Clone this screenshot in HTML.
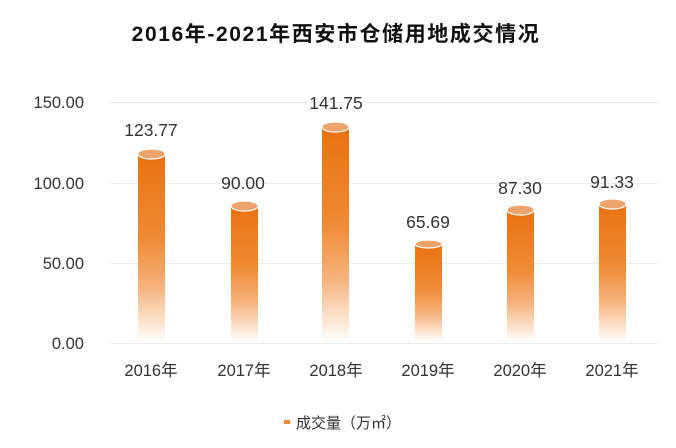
<!DOCTYPE html>
<html><head><meta charset="utf-8"><style>
html,body{margin:0;padding:0;background:#fff;width:676px;height:448px;overflow:hidden}
text{font-family:"Liberation Sans","Noto Sans CJK SC",sans-serif}
</style></head><body>
<svg width="676" height="448" xmlns="http://www.w3.org/2000/svg">
<defs>
<linearGradient id="g" x1="0" y1="0" x2="0" y2="1">
<stop offset="0" stop-color="#e87212"/>
<stop offset="0.45" stop-color="#f08a34"/>
<stop offset="0.7" stop-color="#f5b17a"/>
<stop offset="1" stop-color="#ffffff"/>
</linearGradient>
</defs>
<text x="336" y="41" text-anchor="middle" font-size="21" font-weight="bold" fill="#111" letter-spacing="1.6">2016年-2021年西安市仓储用地成交情况</text>
<g stroke="#ececec" stroke-width="1">
<line x1="110" y1="102.5" x2="658" y2="102.5"/>
<line x1="110" y1="183.5" x2="658" y2="183.5"/>
<line x1="110" y1="263.5" x2="658" y2="263.5"/>
<line x1="110" y1="343.5" x2="658" y2="343.5"/>
</g>
<g font-size="16.5" fill="#333" text-anchor="end">
<text x="84" y="108">150.00</text>
<text x="84" y="189">100.00</text>
<text x="84" y="269">50.00</text>
<text x="84" y="349">0.00</text>
</g>
<g font-size="16.5" fill="#333" text-anchor="middle">
<text x="151" y="376">2016年</text>
<text x="244" y="376">2017年</text>
<text x="336" y="376">2018年</text>
<text x="428" y="376">2019年</text>
<text x="520" y="376">2020年</text>
<text x="612" y="376">2021年</text>
</g>
<g>
<rect x="138" y="154" width="27" height="188" fill="url(#g)"/>
<ellipse cx="151.5" cy="154" rx="13.5" ry="5" fill="#eda46c" stroke="#fff" stroke-width="1.2"/>
<rect x="231" y="206" width="27" height="136" fill="url(#g)"/>
<ellipse cx="244.5" cy="206" rx="13.5" ry="5" fill="#eda46c" stroke="#fff" stroke-width="1.2"/>
<rect x="322" y="127" width="27" height="215" fill="url(#g)"/>
<ellipse cx="335.5" cy="127" rx="13.5" ry="5" fill="#eda46c" stroke="#fff" stroke-width="1.2"/>
<rect x="415" y="244" width="27" height="98" fill="url(#g)"/>
<ellipse cx="428.5" cy="244" rx="13.5" ry="4" fill="#eda46c" stroke="#fff" stroke-width="1.2"/>
<rect x="507" y="210" width="27" height="132" fill="url(#g)"/>
<ellipse cx="520.5" cy="210" rx="13.5" ry="5" fill="#eda46c" stroke="#fff" stroke-width="1.2"/>
<rect x="599" y="204" width="27" height="138" fill="url(#g)"/>
<ellipse cx="612.5" cy="204" rx="13.5" ry="5" fill="#eda46c" stroke="#fff" stroke-width="1.2"/>
</g>
<g font-size="17.5" fill="#333" text-anchor="middle">
<text x="151" y="136">123.77</text>
<text x="243" y="189">90.00</text>
<text x="336" y="109">141.75</text>
<text x="428" y="228">65.69</text>
<text x="520" y="194">87.30</text>
<text x="612" y="188">91.33</text>
</g>
<rect x="284" y="420" width="6" height="4" fill="#f08a34"/>
<text x="296" y="428" font-size="15" fill="#333">成交量（万㎡）</text>
</svg>
</body></html>
